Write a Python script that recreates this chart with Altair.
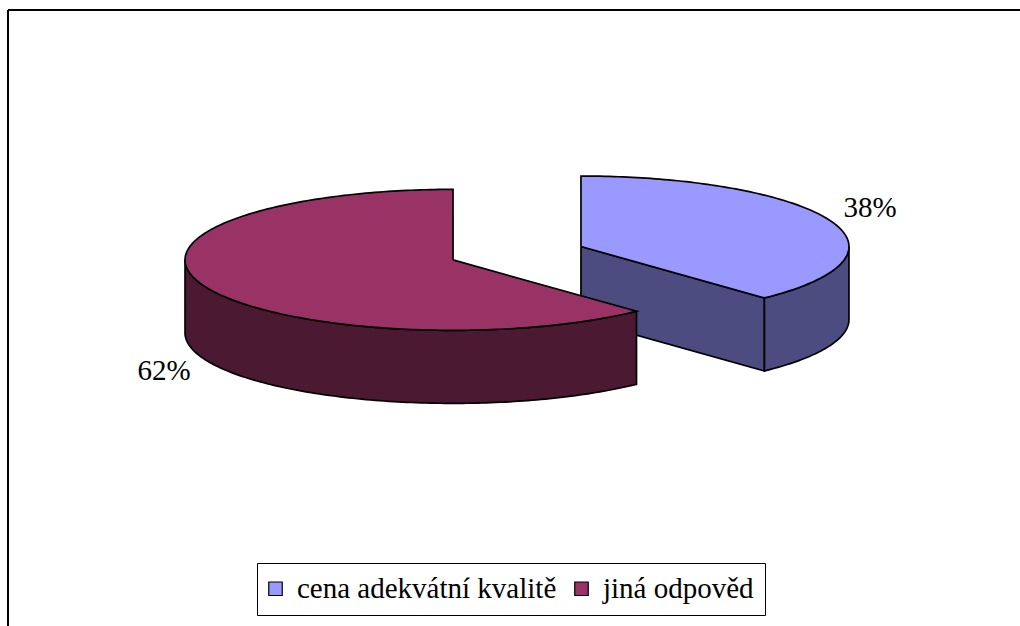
import math
import altair as alt
import pandas as pd

# ---- data ----
categories = ["cena adekvátní kvalitě", "jiná odpověd"]
values = [38, 62]

# ---- styling ----
top_colors = ["#9999FF", "#993366"]
side_colors = ["#4C4C80", "#4C1933"]
FONT = "Liberation Serif, Times New Roman, serif"

# ---- 3D pie geometry (layout constants) ----
W, H = 1020, 626
CX, CY = 517.0, 253.2
RX, RY = 268.0, 70.5
DEPTH = 73.0
EXPLODE = 68.8
N = 120


def pt(cx, cy, a, dz=0.0):
    r = math.radians(a)
    return cx + RX * math.sin(r), cy - RY * math.cos(r) + dz


def arc(cx, cy, a0, a1, dz=0.0):
    n = max(2, int(abs(a1 - a0) / 360 * N * 3))
    return [pt(cx, cy, a0 + (a1 - a0) * i / n, dz) for i in range(n + 1)]


total = float(sum(values))
slices = []
start = 0.0
for i, v in enumerate(values):
    sweep = 360.0 * v / total
    a0, a1 = start, start + sweep
    mid = (a0 + a1) / 2
    mr = math.radians(mid)
    cx = CX + EXPLODE * math.sin(mr)
    cy = CY - EXPLODE * math.cos(mr) * RY / RX
    slices.append(dict(i=i, a0=a0, a1=a1, mid=mid, cx=cx, cy=cy))
    start = a1

polys = []  # (slice index, part, points)
# back slices first
for s in sorted(slices, key=lambda s: -math.cos(math.radians(s["mid"]))):
    cx, cy, a0, a1 = s["cx"], s["cy"], s["a0"], s["a1"]
    # cut faces
    for edge, normal in ((a0, a0 - 90), (a1, a1 + 90)):
        if math.cos(math.radians(normal)) < -1e-6:
            p = pt(cx, cy, edge)
            pts = [(cx, cy), p, (p[0], p[1] + DEPTH), (cx, cy + DEPTH), (cx, cy)]
            polys.append((s["i"], "cut", pts))
    # front wall (visible between 90 and 270 degrees)
    w0, w1 = max(a0, 90.0), min(a1, 270.0)
    if w1 > w0:
        top = arc(cx, cy, w0, w1)
        bot = arc(cx, cy, w1, w0, DEPTH)
        polys.append((s["i"], "wall", top + bot + [top[0]]))
    # top face
    pts = [(cx, cy)] + arc(cx, cy, a0, a1) + [(cx, cy)]
    polys.append((s["i"], "top", pts))

xs = alt.Scale(domain=[0, W], nice=False, zero=False)
ys = alt.Scale(domain=[0, H], nice=False, zero=False, reverse=True)

legend = alt.Legend(
    title=None, orient="none", legendX=257, legendY=563, direction="horizontal",
    padding=11, strokeColor="black", fillColor="white",
    symbolType="square", symbolSize=182, symbolStrokeColor="black",
    symbolStrokeWidth=1.2, symbolOffset=-7, labelFont=FONT, labelFontSize=29,
    labelColor="black", labelOffset=7, columnPadding=15, labelLimit=1000,
)

layers = []
for si, part, pts in polys:
    df = pd.DataFrame({
        "seq": list(range(len(pts))),
        "x": [p[0] for p in pts],
        "y": [p[1] for p in pts],
        "cat": categories[si],
    })
    base = alt.Chart(df)
    enc = dict(
        x=alt.X("x:Q", scale=xs, axis=None),
        y=alt.Y("y:Q", scale=ys, axis=None),
        order=alt.Order("seq:Q"),
    )
    if part == "top":
        layer = base.mark_line(filled=True, stroke="black", strokeWidth=1.7).encode(
            color=alt.Color("cat:N", scale=alt.Scale(domain=categories, range=top_colors),
                            legend=legend),
            **enc,
        )
    else:
        layer = base.mark_line(filled=True, fill=side_colors[si], stroke="black",
                               strokeWidth=1.7).encode(**enc)
    layers.append(layer)

# percentage labels
lab = []
for s in slices:
    mr = math.radians(s["mid"])
    lx = s["cx"] + 1.16 * RX * math.sin(mr)
    ly = s["cy"] - 1.47 * RY * math.cos(mr) + (DEPTH if math.cos(mr) < 0 else 0)
    lab.append(dict(x=lx, y=ly, t=f"{round(values[s['i']] / total * 100)}%"))
labels = alt.Chart(pd.DataFrame(lab)).mark_text(
    font=FONT, fontSize=29, color="black", align="center", baseline="middle"
).encode(x=alt.X("x:Q", scale=xs, axis=None), y=alt.Y("y:Q", scale=ys, axis=None), text="t:N")
layers.append(labels)

one = pd.DataFrame({"a": [0]})
frame_v = alt.Chart(one).mark_rule(color="black", strokeWidth=2).encode(
    x=alt.value(8), y=alt.value(10), y2=alt.value(H))
frame_h = alt.Chart(one).mark_rule(color="black", strokeWidth=2).encode(
    x=alt.value(8), x2=alt.value(W), y=alt.value(10))
layers += [frame_v, frame_h]

chart = alt.layer(*layers).properties(
    width=W, height=H, padding=0, autosize="none", background="white"
).configure_view(stroke=None)

chart.save("out.html", embed_options={"renderer": "svg", "actions": False})
